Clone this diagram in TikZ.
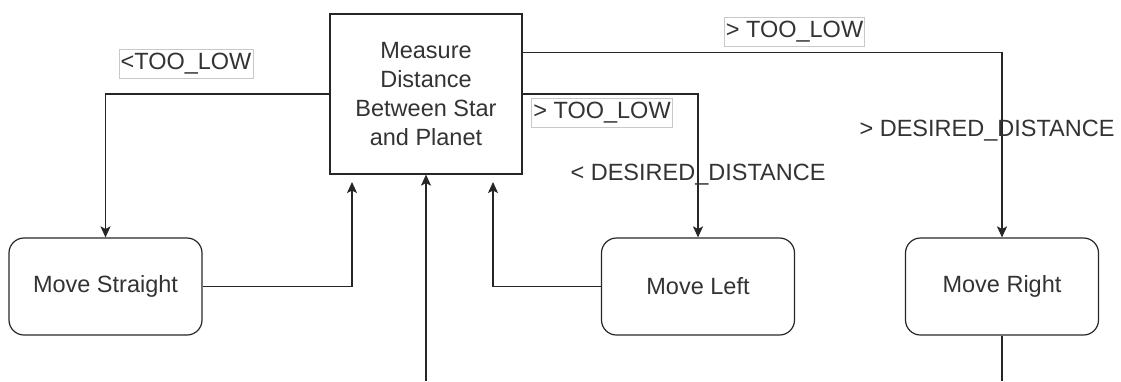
\documentclass[tikz,border=0pt]{standalone}
\usepackage{fontspec}
\setmainfont{Liberation Sans}
\usetikzlibrary{arrows.meta}
\definecolor{line}{HTML}{262626}
\definecolor{txt}{HTML}{333333}
\definecolor{lbl}{HTML}{C8C8C8}
\begin{document}
\begin{tikzpicture}[x=1pt,y=-1pt,
  every node/.style={font=\fontsize{23.5}{29.2}\selectfont, text=txt},
  state/.style={draw=line, line width=1.2pt, rounded corners=15pt,
    minimum width=193pt, minimum height=97pt, inner sep=0pt},
  measurebox/.style={draw=line, line width=1.2pt, minimum width=192pt,
    minimum height=160pt, align=center, inner sep=0pt},
  guard/.style={draw=lbl, fill=white, line width=0.8pt, inner sep=1.5pt,
    minimum height=29pt},
  plain/.style={inner sep=0pt},
  flow/.style={draw=line, line width=1.2pt,
    -{Stealth[length=11pt,width=10pt,inset=2.5pt]}},
  wire/.style={draw=line, line width=1.2pt}
]
\useasboundingbox (0,0) rectangle (1121,381);

% states
\node[measurebox] (measure) at (426,94) {Measure\\Distance\\Between Star\\and Planet};
\node[state] (straight) at (105.5,286.5) {Move Straight};
\node[state] (left) at (698,286.5) {Move Left};
\node[state] (right) at (1002,286.5) {Move Right};

% free ends
\coordinate (in1) at (352,182);
\coordinate (in3) at (493,182);
\coordinate (bottomin) at (426,381);
\coordinate (bottomout) at (1002,381);
\coordinate (mtop) at ([yshift=-39.3pt]measure.north east);

% outgoing transitions
\draw[flow] (measure.west) -| (straight.north);
\draw[flow] (measure.east) -| (left.north);
\draw[flow] (mtop) -| (right.north);

% returns to the measurement
\draw[flow] (straight.east) -| (in1);
\draw[flow] (left.west) -| (in3);
\draw[flow] (bottomin) -- (measure.south);
\draw[wire] (right.south) -- (bottomout);

% guards
\node[guard] (g1) at (186,64) {<TOO\_LOW};
\node[guard] (g2) at (794.5,31.5) {> TOO\_LOW};
\node[guard] (g3) at (602,112.5) {> TOO\_LOW};
\node[plain] (d1) at (698,175) {< DESIRED\_DISTANCE};
\node[plain] (d2) at (987,131) {> DESIRED\_DISTANCE};
\end{tikzpicture}
\end{document}
